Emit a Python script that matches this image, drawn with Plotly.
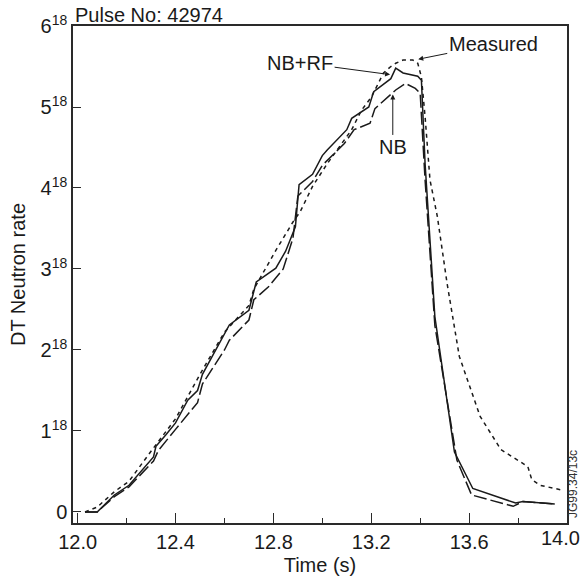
import plotly.graph_objects as go

# NB+RF (solid)
t_nbrf = [12.03, 12.08, 12.15, 12.21, 12.31, 12.32, 12.36, 12.40, 12.45, 12.49, 12.51, 12.61, 12.62,
          12.70, 12.73, 12.81, 12.85, 12.89, 12.905, 12.96, 13.00, 13.02, 13.10, 13.12, 13.19, 13.21,
          13.28, 13.30, 13.33, 13.39, 13.405, 13.42, 13.46, 13.54, 13.615, 13.79, 13.82, 13.95]
v_nbrf = [0, 0, 0.21, 0.33, 0.68, 0.81, 0.95, 1.10, 1.38, 1.50, 1.70, 2.27, 2.31,
          2.49, 2.84, 3.01, 3.22, 3.52, 4.04, 4.17, 4.40, 4.47, 4.72, 4.86, 5.00, 5.19,
          5.35, 5.48, 5.42, 5.38, 5.33, 4.30, 2.41, 0.74, 0.29, 0.11, 0.13, 0.10]

# NB (dashed)
t_nb = [12.03, 12.08, 12.15, 12.21, 12.31, 12.33, 12.40, 12.49, 12.51, 12.60, 12.62, 12.70, 12.72,
        12.78, 12.84, 12.88, 12.90, 12.96, 13.00, 13.09, 13.13, 13.195, 13.215, 13.30, 13.34, 13.38,
        13.40, 13.42, 13.46, 13.55, 13.61, 13.78, 13.82, 13.95]
v_nb = [0, 0, 0.19, 0.31, 0.63, 0.76, 1.02, 1.35, 1.58, 2.00, 2.12, 2.37, 2.62,
        2.78, 3.00, 3.38, 3.90, 4.08, 4.28, 4.55, 4.72, 4.80, 4.98, 5.21, 5.29, 5.23,
        5.17, 4.10, 2.30, 0.64, 0.21, 0.07, 0.13, 0.10]

# Measured (dotted)
t_meas = [12.03, 12.08, 12.15, 12.21, 12.30, 12.40, 12.50, 12.60, 12.70, 12.72, 12.81, 12.88, 12.91,
          12.96, 13.02, 13.06, 13.12, 13.16, 13.20, 13.25, 13.28, 13.30, 13.33, 13.37, 13.39, 13.405,
          13.42, 13.44, 13.47, 13.51, 13.56, 13.645, 13.73, 13.84, 13.856, 13.89, 13.98]
v_meas = [0, 0.06, 0.25, 0.38, 0.75, 1.15, 1.70, 2.22, 2.55, 2.75, 3.23, 3.58, 3.71,
          4.02, 4.30, 4.47, 4.72, 4.96, 5.12, 5.42, 5.50, 5.54, 5.58, 5.58, 5.54, 5.37,
          4.88, 4.10, 3.65, 2.82, 1.92, 1.18, 0.77, 0.56, 0.40, 0.33, 0.27]

y_tickvals = [0, 1, 2, 3, 4, 5, 6]
y_ticktext = ["0", "1<sup>18</sup>", "2<sup>18</sup>", "3<sup>18</sup>", "4<sup>18</sup>",
              "5<sup>18</sup>", "6<sup>18</sup>"]
x_tickvals = [12.0, 12.4, 12.8, 13.2, 13.6, 14.0]
x_ticktext = ["12.0", "12.4", "12.8", "13.2", "13.6", "14.0"]
x_minorvals = [12.2, 12.6, 13.0, 13.4, 13.8]

FONT = "Liberation Sans, Arial, sans-serif"
INK = "#1a1a1a"
FRAME = "#2a2a2a"

fig = go.Figure()
fig.add_trace(go.Scatter(x=t_meas, y=v_meas, mode="lines", name="Measured",
                         line=dict(color=INK, width=1.5, dash="4px,4px")))
fig.add_trace(go.Scatter(x=t_nb, y=v_nb, mode="lines", name="NB",
                         line=dict(color=INK, width=1.5, dash="13px,4px")))
fig.add_trace(go.Scatter(x=t_nbrf, y=v_nbrf, mode="lines", name="NB+RF",
                         line=dict(color=INK, width=1.5)))

fig.update_layout(
    width=581, height=583,
    margin=dict(l=73, r=14, t=26, b=60, autoexpand=False),
    paper_bgcolor="white", plot_bgcolor="white",
    showlegend=False,
    font=dict(family=FONT, size=20, color=INK),
)
# last x tick label is placed separately so it stays inside the picture
x_ticktext_axis = x_ticktext[:-1] + [""]
fig.update_xaxes(
    range=[11.981, 14.0], tickvals=x_tickvals, ticktext=x_ticktext_axis,
    ticks="inside", ticklen=10, tickwidth=1.2, tickcolor=FRAME,
    minor=dict(tickvals=x_minorvals, ticks="inside", ticklen=5,
               tickwidth=1.2, tickcolor=FRAME),
    showline=True, linecolor=FRAME, linewidth=1.5, mirror=True,
    showgrid=False, zeroline=False, automargin=False,
    tickfont=dict(size=20),
    title=dict(text="Time (s)", font=dict(size=20), standoff=6),
)
fig.update_yaxes(
    range=[-0.136, 6.0], tickvals=y_tickvals, ticktext=y_ticktext,
    ticks="inside", ticklen=8, tickwidth=1.2, tickcolor=FRAME,
    showline=True, linecolor=FRAME, linewidth=1.5, mirror=True,
    showgrid=False, zeroline=False, automargin=False,
    tickfont=dict(size=20), ticklabeloverflow="allow",
    title=dict(text="DT Neutron rate", font=dict(size=20), standoff=10),
)

fig.add_annotation(x=x_tickvals[-1], y=-0.031, yref="paper", text=x_ticktext[-1],
                   xanchor="right", yanchor="middle", xshift=15, showarrow=False,
                   font=dict(size=20, color=INK))

fig.add_annotation(x=13.277, y=5.40, text="NB+RF", showarrow=True, ax=-90, ay=-12,
                   arrowhead=2, arrowsize=1, arrowwidth=1, arrowcolor=INK,
                   font=dict(size=20, color=INK))
fig.add_annotation(x=13.392, y=5.59, text="Measured", showarrow=True, ax=75, ay=-15,
                   arrowhead=2, arrowsize=1, arrowwidth=1, arrowcolor=INK,
                   font=dict(size=20, color=INK))
fig.add_annotation(x=13.288, y=5.155, text="NB", showarrow=True, ax=0, ay=53,
                   arrowhead=2, arrowsize=1, arrowwidth=1, arrowcolor=INK,
                   font=dict(size=20, color=INK))
fig.add_annotation(xref="paper", yref="paper", x=0, y=1.022, xanchor="left", yanchor="middle",
                   text="Pulse No: 42974", showarrow=False, font=dict(size=20, color=INK))
fig.add_annotation(xref="paper", yref="paper", x=1.0121, y=0.0785, xanchor="center", yanchor="middle",
                   text="JG99.34/13c", textangle=-90, showarrow=False,
                   font=dict(size=12, color="#333"))

fig.write_html("out.html")
